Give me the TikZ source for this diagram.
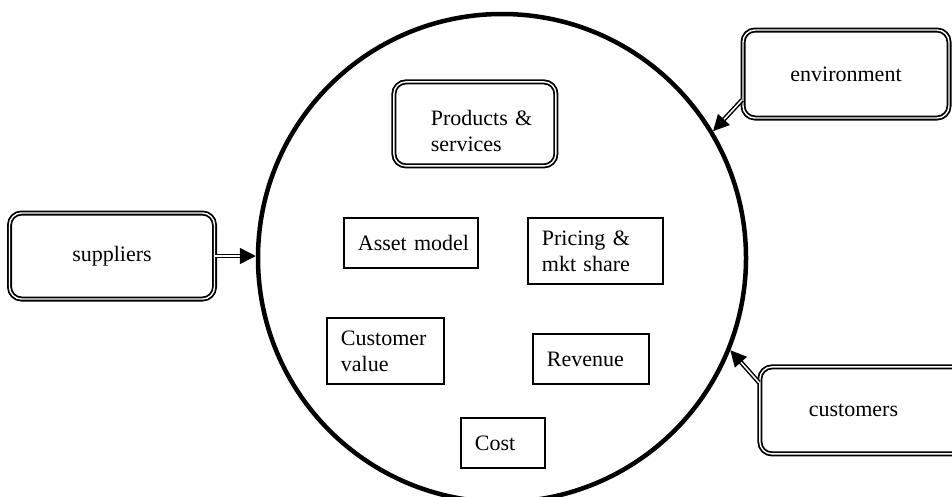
\documentclass[tikz,border=0pt]{standalone}
\usepackage{fontspec}
\setmainfont{Liberation Serif}
\usetikzlibrary{arrows.meta}

\begin{document}
\begin{tikzpicture}[x=1pt, y=-1pt, font=\fontsize{22}{26}\selectfont,
    outbox/.style={draw, double, double distance=1.4pt, line width=1.8pt, rounded corners=12pt, align=center},
    inbox/.style={draw, line width=1.8pt, anchor=north west, inner xsep=14pt, inner ysep=0pt, align=left},
    feed/.style={double, double distance=1.5pt, line width=1.5pt, -{Triangle[length=16pt, width=16pt]}}]

    \useasboundingbox (0,0) rectangle (952,496);
    \clip (0,0) rectangle (952,496);

    % The business model: big circle
    \node[draw, circle, line width=4.5pt, minimum size=488pt] (firm) at (502,258) {};

    % Outside players (double rounded boxes)
    \node[outbox, minimum width=205pt, minimum height=86pt] (suppliers) at (112,256) {suppliers};
    \node[outbox, minimum width=206pt, minimum height=88pt] (environment) at (846,74) {environment};
    \node[outbox, anchor=north west, inner xsep=49pt, text width=108pt, minimum height=87pt, align=left] (customers) at (759,366) {customers};

    % Parts inside the circle
    \node[outbox, anchor=north west, inner xsep=37pt, text width=88pt, text height=30pt, minimum height=84pt, align=left] (products) at (393,81) {Products~\&\\services};
    \node[inbox, text width=106pt, minimum height=50pt] (asset) at (343,217) {Asset~model};
    \node[inbox, text width=107pt, minimum height=66pt] (pricing) at (527,217) {Pricing \&\\mkt share};
    \node[inbox, text width=89pt, minimum height=66pt] (custval) at (326,317) {Customer\\value};
    \node[inbox, text width=88pt, minimum height=50pt] (revenue) at (532,333) {Revenue};
    \node[inbox, text width=56pt, minimum height=50pt] (cost) at (460,417) {Cost};

    % Arrows into the circle
    \draw[feed] (suppliers.east) -- (suppliers.east -| firm.west);
    \draw[feed] (environment.194) -- (firm.31);
    \draw[feed] (customers.165) -- (firm.338);

\end{tikzpicture}
\end{document}
